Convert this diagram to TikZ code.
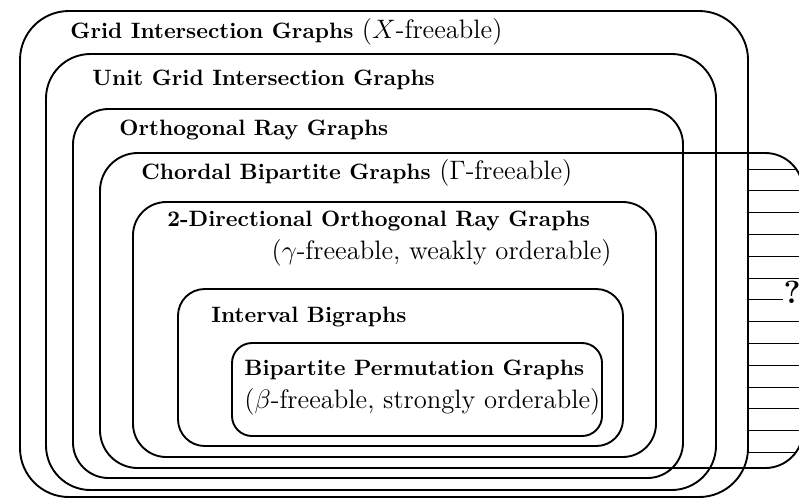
\documentclass[tikz,border=0pt]{standalone}
\begin{document}
\begin{tikzpicture}[x=0.45pt,y=-0.45pt,
  region/.style={draw, line width=0.85pt},
  ttl/.style={anchor=base west, inner sep=0pt, font=\bfseries},
  sub/.style={inner sep=0pt, font=\large},
  hatch/.style={line width=0.45pt}]
\useasboundingbox (0,0) rectangle (799,500);
% regions
\draw[region, rounded corners=22pt] (20,11) rectangle (748,497);
\draw[region, rounded corners=20pt] (46,54) rectangle (716,490);
\draw[region, rounded corners=16pt] (73,109) rectangle (683,478);
\draw[region, rounded corners=17pt] (100,153) rectangle (803,468);
\draw[region, rounded corners=15pt] (133,202) rectangle (656,457);
\draw[region, rounded corners=12pt] (178,289) rectangle (623,446);
\draw[region, rounded corners=9pt] (232,343) rectangle (602,436);
% hatching outside GIG
\begin{scope}
\clip[rounded corners=17pt] (100,153) rectangle (803,468);
\foreach \k in {0,...,13} \draw[hatch] (748,{169+21.8*\k}) -- (810,{169+21.8*\k});
\end{scope}
\node[font=\Large\bfseries, fill=white, inner sep=0.3pt] (q) at (792,292) {?};
% labels
\node[ttl] (gig) at (70,38) {Grid Intersection Graphs {\normalfont\large ($X$-freeable)}};
\node[ttl] (ugig) at (92,85) {Unit Grid Intersection Graphs};
\node[ttl] (org) at (119,135) {Orthogonal Ray Graphs};
\node[ttl] (cb) at (141,179) {Chordal Bipartite Graphs {\normalfont\large ($\Gamma$-freeable)}};
\node[ttl] (dorg) at (167,226) {2-Directional Orthogonal Ray Graphs};
\node[sub, anchor=base east] (dorgsub) at (612,259) {($\gamma$-freeable, weakly orderable)};
\node[ttl] (ib) at (211,322) {Interval Bigraphs};
\node[ttl] (bpg) at (244,375) {Bipartite Permutation Graphs};
\node[sub, anchor=base west] (bpgsub) at (244,408) {($\beta$-freeable, strongly orderable)};
\end{tikzpicture}
\end{document}
